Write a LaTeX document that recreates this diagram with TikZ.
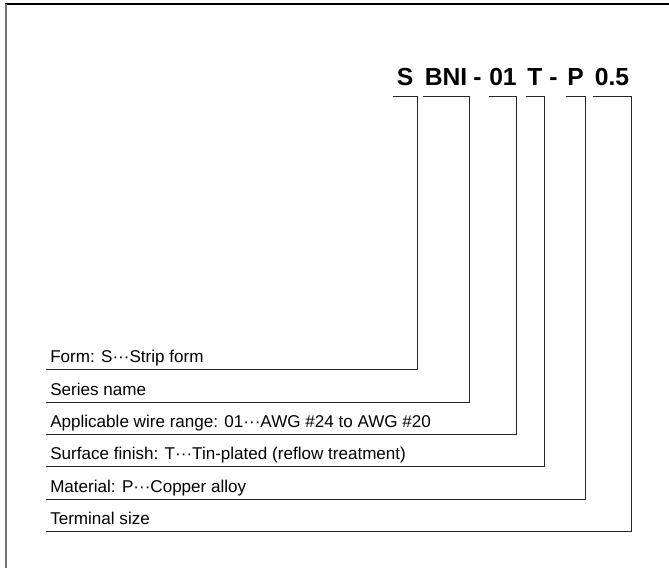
\documentclass[tikz,border=0pt]{standalone}
\usepackage{fontspec}
\setmainfont{Liberation Sans}
\newcommand{\mdots}{\textperiodcentered\textperiodcentered\textperiodcentered}
\tikzset{
    code/.style={font=\fontsize{18.5}{20}\selectfont\bfseries, inner xsep=0pt, anchor=base},
    item/.style={font=\fontsize{12.8}{14}\selectfont, anchor=south west, inner xsep=3pt, inner ysep=4.5pt, text depth=0pt},
    lead/.style={draw=black!85, line width=0.75pt},
}
\begin{document}
\begin{tikzpicture}[x=0.75pt,y=-0.75pt]
        \useasboundingbox (0,0) rectangle (669,568);
        % frame
            \draw[line width=1.5pt, black] (5,4) -- (669,4);
            \draw[line width=1.5pt, black!55] (6,4) -- (6,568);
        % part number
            \coordinate (tick) at (0,96);
            \foreach \n/\t/\x/\w in {s/S/405/24, bni/BNI/446/46, nr/01/503/24, t/T/535/18, p/P/575.5/19, sz/0.5/612/38}{
                \node[code, minimum width=\w*0.75pt] (\n) at (\x,85) {\t};
            }
            \node[code] (d1) at (477.5,85) {-};
            \node[code] (d2) at (553.5,85) {-};
        % meanings
            \foreach \n/\y/\txt in {s/369/{Form: S\mdots Strip form},
                                  bni/402/{Series name},
                                  nr/434/{Applicable wire range: 01\mdots AWG \#24 to AWG \#20},
                                  t/466/{Surface finish: T\mdots Tin-plated (reflow treatment)},
                                  p/499/{Material: P\mdots Copper alloy},
                                  sz/531/{Terminal size}}{
                \node[item] (l\n) at (46,\y) {\txt};
                \draw[lead] (\n.west |- tick) -- (\n.east |- tick) |- (l\n.south west);
            }
        \end{tikzpicture}
\end{document}
